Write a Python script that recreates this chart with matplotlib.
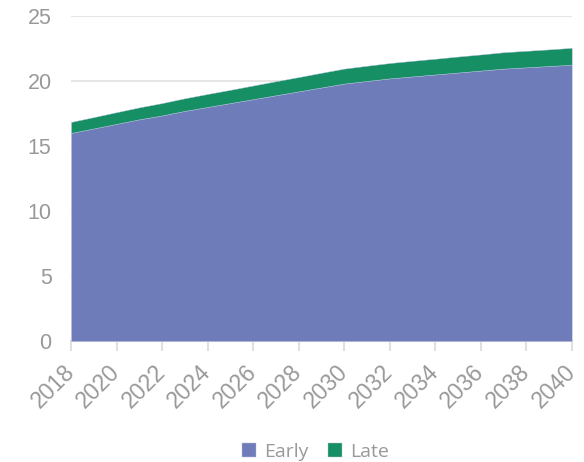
import numpy as np
import matplotlib.pyplot as plt

# data
years = list(range(2018, 2041))
early = [16.0, 16.35, 16.7, 17.05, 17.35, 17.7, 18.0, 18.3, 18.6, 18.9, 19.2, 19.5,
         19.8, 20.0, 20.2, 20.35, 20.5, 20.65, 20.8, 20.95, 21.05, 21.15, 21.25]
late = [0.85, 0.87, 0.9, 0.92, 0.95, 0.97, 1.0, 1.02, 1.05, 1.08, 1.1, 1.13,
        1.15, 1.17, 1.18, 1.2, 1.21, 1.23, 1.24, 1.26, 1.27, 1.28, 1.3]
labels = ["Early", "Late"]
colors = ["#6e7dba", "#178f65"]

plt.rcParams['font.family'] = ['Liberation Sans', 'DejaVu Sans']

fig = plt.figure(figsize=(5.84, 4.62), dpi=100)
ax = fig.add_axes([0.1216, 0.262, 0.8574, 0.7034])

ax.stackplot(years, early, late, labels=labels, colors=colors,
             edgecolor='#b9bfe0', linewidth=0.3, zorder=3)

ax.set_xlim(2018, 2040)
ax.set_ylim(0, 25)
ax.set_yticks([0, 5, 10, 15, 20, 25])
ax.set_xticks(years[::2])
ax.set_xticklabels([str(y) for y in years[::2]], rotation=45, ha='right', va='center',
                   rotation_mode='anchor')

ax.grid(axis='y', color='#e6e6e6', linewidth=1.5, zorder=0)
for s in ['top', 'right', 'left']:
    ax.spines[s].set_visible(False)
ax.spines['bottom'].set_color('#e0e0e0')
ax.spines['bottom'].set_linewidth(1.5)
ax.tick_params(axis='x', colors='#e0e0e0', length=7, width=1.5, labelcolor='#999999',
               labelsize=16.5, pad=13)
ax.tick_params(axis='y', length=0, labelcolor='#999999', labelsize=15.5, pad=14)

fig.legend(loc='center', bbox_to_anchor=(0.54, 0.022), ncol=2, frameon=False,
           handlelength=0.75, handleheight=0.75, handletextpad=0.4, columnspacing=1.0,
           prop={'family': 'Open Sans', 'size': 14}, labelcolor='#999999')

fig.savefig("out.png", dpi=100)
